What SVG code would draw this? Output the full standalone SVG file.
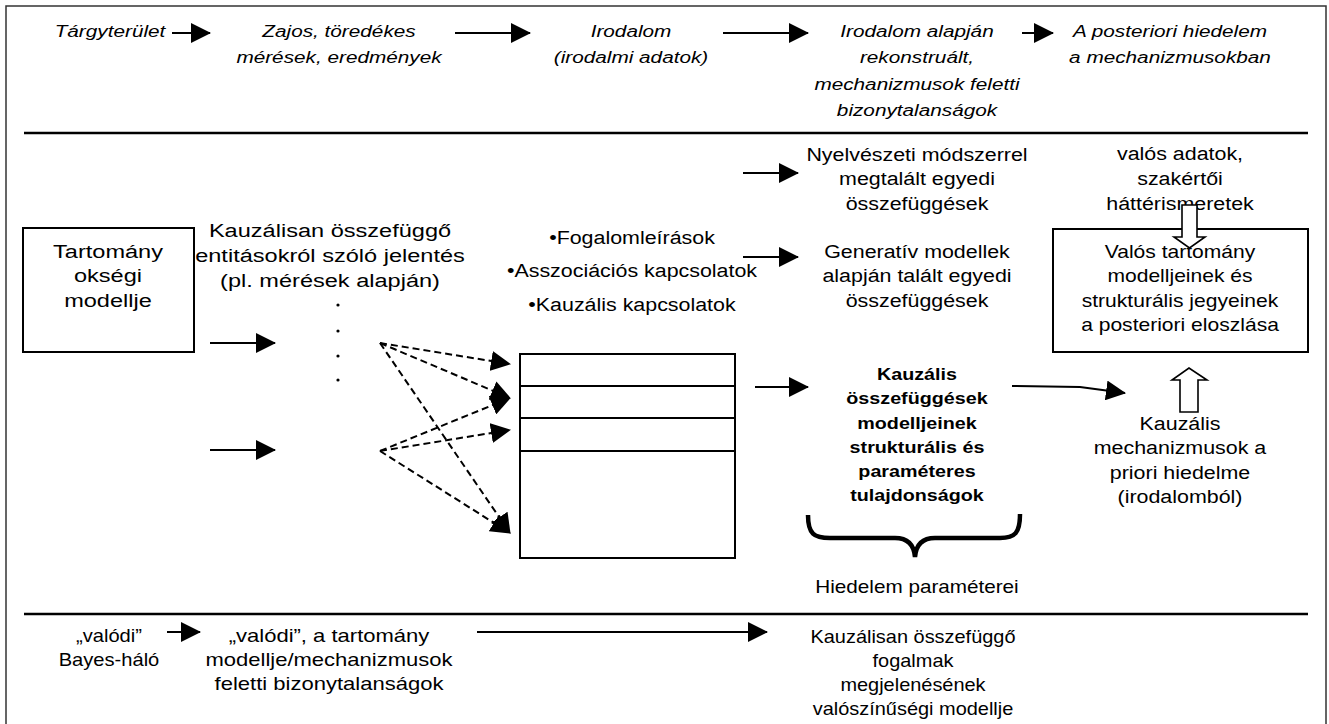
<svg xmlns="http://www.w3.org/2000/svg" width="1329" height="724" viewBox="0 0 1329 724">
<style>
.t{font-family:"Liberation Sans",Arial,sans-serif;font-size:18px;fill:#000;text-anchor:middle}
.i{font-style:italic;font-size:17.3px}
.b{font-weight:bold;font-size:17px}
.L{font-size:19px}
.M{font-size:18.5px}
.S{font-size:17.5px}
.ln{stroke:#000;stroke-width:2;fill:none}
.sep{stroke:#000;stroke-width:2.5;fill:none}
.box{stroke:#000;stroke-width:2;fill:none}
.dash{stroke:#000;stroke-width:2;fill:none;stroke-dasharray:7 4}
.hollow{stroke:#000;stroke-width:1.6;fill:#fff}
</style>
<defs>
<marker id="ah" markerUnits="userSpaceOnUse" markerWidth="20" markerHeight="20" refX="19" refY="10" orient="auto" viewBox="0 0 20 20">
<path d="M0,0 L20,10 L0,20 Z" fill="#000"/>
</marker>
</defs>
<rect width="1329" height="724" fill="#fff"/>
<path d="M6,724 V6 H1326 V724" stroke="#333" stroke-width="1.5" fill="none"/>
<g id="separators">
<path class="sep" d="M24,133 H1308"/>
<path class="sep" d="M24,614 H1308"/>
</g>

<g id="top-row">
<text class="t i" transform="translate(110,37) scale(1.2,1)">Tárgyterület</text>
<text class="t i" transform="translate(339,37) scale(1.2,1)"><tspan x="0" y="0">Zajos, töredékes</tspan><tspan x="0" y="26.5">mérések, eredmények</tspan></text>
<text class="t i" transform="translate(631,37) scale(1.2,1)"><tspan x="0" y="0">Irodalom</tspan><tspan x="0" y="26.5">(irodalmi adatok)</tspan></text>
<text class="t i" transform="translate(917,37) scale(1.2,1)"><tspan x="0" y="0">Irodalom alapján</tspan><tspan x="0" y="26.5">rekonstruált,</tspan><tspan x="0" y="53">mechanizmusok feletti</tspan><tspan x="0" y="79.5">bizonytalanságok</tspan></text>
<text class="t i" transform="translate(1170,37) scale(1.2,1)"><tspan x="0" y="0">A posteriori hiedelem</tspan><tspan x="0" y="26.5">a mechanizmusokban</tspan></text>
</g>

<g id="node-tartomany">
<rect class="box" x="23" y="228" width="171" height="124"/>
<text class="t L" transform="translate(108,258) scale(1.24,1)"><tspan x="0" y="0">Tartomány</tspan><tspan x="0" y="24.5">okségi</tspan><tspan x="0" y="49">modellje</tspan></text>
</g>
<g id="node-jelentes">
<text class="t L" transform="translate(330,237) scale(1.24,1)"><tspan x="0" y="0">Kauzálisan összefüggő</tspan><tspan x="0" y="25">entitásokról szóló jelentés</tspan><tspan x="0" y="50">(pl. mérések alapján)</tspan></text>
<g fill="#000"><circle cx="338" cy="305" r="1.6"/><circle cx="338" cy="331" r="1.6"/><circle cx="338" cy="356" r="1.6"/><circle cx="338" cy="380" r="1.6"/></g>
</g>
<g id="node-bullets">
<text class="t" transform="translate(632,244) scale(1.19,1)">•Fogalomleírások</text>
<text class="t" transform="translate(632,277) scale(1.19,1)">•Asszociációs kapcsolatok</text>
<text class="t" transform="translate(632,311) scale(1.19,1)">•Kauzális kapcsolatok</text>
</g>
<g id="node-stack">
<rect class="box" x="520" y="354" width="215" height="204"/>
<path class="box" d="M520,386 H735 M520,418 H735 M520,451 H735"/>
</g>
<g id="node-nyelveszeti">
<text class="t" transform="translate(917,161) scale(1.19,1)"><tspan x="0" y="0">Nyelvészeti módszerrel</tspan><tspan x="0" y="24.5">megtalált egyedi</tspan><tspan x="0" y="49">összefüggések</tspan></text>
</g>
<g id="node-generativ">
<text class="t" transform="translate(917,258) scale(1.19,1)"><tspan x="0" y="0">Generatív modellek</tspan><tspan x="0" y="24.5">alapján talált egyedi</tspan><tspan x="0" y="49">összefüggések</tspan></text>
</g>
<g id="node-valos-adatok">
<text class="t" transform="translate(1180,160) scale(1.19,1)"><tspan x="0" y="0">valós adatok,</tspan><tspan x="0" y="25">szakértői</tspan><tspan x="0" y="50">háttérismeretek</tspan></text>
</g>
<g id="node-posteriori">
<rect class="box" x="1053" y="229" width="255" height="123"/>
<text class="t" transform="translate(1180,258) scale(1.17,1)"><tspan x="0" y="0">Valós tartomány</tspan><tspan x="0" y="24.5">modelljeinek és</tspan><tspan x="0" y="49">strukturális jegyeinek</tspan><tspan x="0" y="73.5">a posteriori eloszlása</tspan></text>
</g>
<g id="node-bold">
<text class="t b" transform="translate(917,380) scale(1.16,1)"><tspan x="0" y="0">Kauzális</tspan><tspan x="0" y="24.3">összefüggések</tspan><tspan x="0" y="48.6">modelljeinek</tspan><tspan x="0" y="72.9">strukturális és</tspan><tspan x="0" y="97.2">paraméteres</tspan><tspan x="0" y="121.5">tulajdonságok</tspan></text>
<path d="M808,515 C808,534 814,538 830,538 L895,538 C908,538 914,545 915,557 C916,545 922,538 935,538 L1000,538 C1015,538 1020,533 1020,514" stroke="#000" stroke-width="4.5" fill="none"/>
<text class="t" transform="translate(917,593) scale(1.15,1)">Hiedelem paraméterei</text>
</g>
<g id="node-apriori">
<text class="t" transform="translate(1180,430) scale(1.19,1)"><tspan x="0" y="0">Kauzális</tspan><tspan x="0" y="24.5">mechanizmusok a</tspan><tspan x="0" y="49">priori hiedelme</tspan><tspan x="0" y="73.5">(irodalomból)</tspan></text>
</g>

<g id="bottom-row">
<text class="t S" transform="translate(109,642) scale(1.15,1)"><tspan x="0" y="0">„valódi”</tspan><tspan x="0" y="24">Bayes-háló</tspan></text>
<text class="t M" transform="translate(329,642) scale(1.19,1)"><tspan x="0" y="0">„valódi”, a tartomány</tspan><tspan x="0" y="24">modellje/mechanizmusok</tspan><tspan x="0" y="48">feletti bizonytalanságok</tspan></text>
<text class="t S" transform="translate(913,643) scale(1.14,1)"><tspan x="0" y="0">Kauzálisan összefüggő</tspan><tspan x="0" y="24">fogalmak</tspan><tspan x="0" y="48">megjelenésének</tspan><tspan x="0" y="72">valószínűségi modellje</tspan></text>
</g>

<g id="connectors">
<path class="ln" marker-end="url(#ah)" d="M172,33 H210"/>
<path class="ln" marker-end="url(#ah)" d="M455,33 H530"/>
<path class="ln" marker-end="url(#ah)" d="M723,33 H808"/>
<path class="ln" marker-end="url(#ah)" d="M1022,33 H1053"/>
<path class="ln" marker-end="url(#ah)" d="M743,173 H798"/>
<path class="ln" marker-end="url(#ah)" d="M743,257 H798"/>
<path class="ln" marker-end="url(#ah)" d="M210,343 H275"/>
<path class="ln" marker-end="url(#ah)" d="M210,450 H275"/>
<path class="ln" marker-end="url(#ah)" d="M755,387 H808"/>
<path class="ln" marker-end="url(#ah)" d="M1012,386 L1080,387 L1125,393"/>
<path class="dash" marker-end="url(#ah)" d="M380,343 L510,364"/>
<path class="dash" marker-end="url(#ah)" d="M380,343 L510,398"/>
<path class="dash" marker-end="url(#ah)" d="M380,343 L510,533"/>
<path class="dash" marker-end="url(#ah)" d="M380,451 L510,398"/>
<path class="dash" marker-end="url(#ah)" d="M380,451 L510,430"/>
<path class="dash" marker-end="url(#ah)" d="M380,451 L510,533"/>
<path class="ln" marker-end="url(#ah)" d="M167,632 H200"/>
<path class="ln" marker-end="url(#ah)" d="M477,632 H767"/>
<path class="hollow" d="M1182,205 H1197 V237 H1205 L1189.5,248 L1174,237 H1182 Z"/>
<path class="hollow" d="M1180,412 V380 H1172 L1189,368 L1207,380 H1198 V412 Z"/>
</g>
</svg>
